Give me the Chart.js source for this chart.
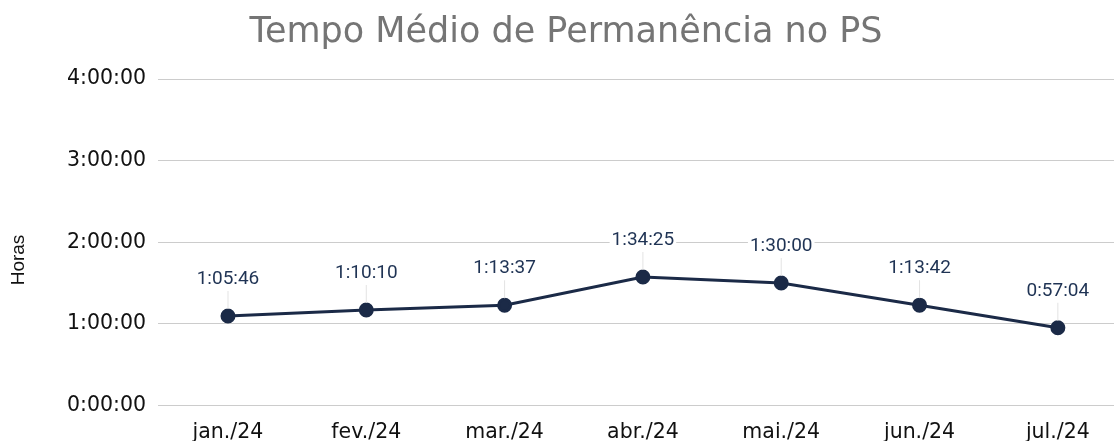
<!DOCTYPE html>
<html lang="pt-BR">
<head>
<meta charset="utf-8">
<script src="https://cdn.jsdelivr.net/npm/chart.js@4/dist/chart.umd.min.js"></script>
<style>
  html, body { margin: 0; padding: 0; background: #fff; overflow: hidden; }
  #wrap { width: 1114px; height: 452px; position: relative; }
</style>
</head>
<body>
<div id="wrap"><canvas id="grafico"></canvas></div>
<script>
// ================= DADOS =================
const meses = ["jan./24", "fev./24", "mar./24", "abr./24", "mai./24", "jun./24", "jul./24"];
// tempo médio em "h:mm:ss"
const tempos = ["1:05:46", "1:10:10", "1:13:37", "1:34:25", "1:30:00", "1:13:42", "0:57:04"];
const yTicks = [0, 3600, 7200, 10800, 14400];
const titulo = "Tempo Médio de Permanência no PS";
const tituloEixoY = "Horas";

// ================= HELPERS =================
function paraSegundos(txt) {
    const [h, m, s] = txt.split(":").map(Number);
    return h * 3600 + m * 60 + s;
}

function formatarHora(seg) {
    const h = Math.floor(seg / 3600);
    const m = Math.floor((seg % 3600) / 60);
    const s = Math.round(seg % 60);
    return h + ":" + String(m).padStart(2, "0") + ":" + String(s).padStart(2, "0");
}

const segundos = tempos.map(paraSegundos);

// ================= PLUGIN ROTULOS =================
const rotulos = {
    id: "rotulos",
    afterDatasetsDraw(chart) {
        const ctx = chart.ctx;
        const meta = chart.getDatasetMeta(0);
        ctx.save();
        ctx.font = "19px Roboto";
        ctx.textAlign = "center";
        ctx.textBaseline = "middle";
        meta.data.forEach((pt, i) => {
            const txt = tempos[i];
            const ty = pt.y - 37;
            // linha guia
            ctx.strokeStyle = "#e3e3e3";
            ctx.lineWidth = 1;
            ctx.beginPath();
            ctx.moveTo(pt.x, ty + 12);
            ctx.lineTo(pt.x, pt.y - 7);
            ctx.stroke();
            // fundo
            const w = ctx.measureText(txt).width;
            ctx.fillStyle = "#fff";
            ctx.fillRect(pt.x - w / 2 - 2, ty - 10, w + 4, 20);
            ctx.fillStyle = "#1f3354";
            ctx.fillText(txt, pt.x, ty);
        });

        // titulo
        ctx.textBaseline = "alphabetic";
        ctx.font = "35px 'DejaVu Sans'";
        ctx.fillStyle = "#757575";
        ctx.fillText(titulo, 566, 42);

        // titulo do eixo Y
        ctx.translate(19, 260);
        ctx.rotate(-Math.PI / 2);
        ctx.textBaseline = "middle";
        ctx.font = "19px 'Liberation Sans'";
        ctx.fillStyle = "#111";
        ctx.fillText(tituloEixoY, 0, 0);
        ctx.restore();
    }
};

// ================= GRAFICO =================
new Chart(document.getElementById("grafico"), {
    type: "line",
    data: {
        datasets: [{
            label: "Tempo médio",
            data: segundos.map((v, i) => ({ x: i, y: v })),
            borderColor: "#1b2a47",
            backgroundColor: "#1b2a47",
            borderWidth: 3,
            pointRadius: 6,
            pointHoverRadius: 6,
            tension: 0
        }]
    },
    options: {
        responsive: true,
        maintainAspectRatio: false,
        animation: false,
        layout: { autoPadding: false, padding: { top: 79, left: 0, right: 0, bottom: 0 } },
        plugins: {
            legend: { display: false },
            tooltip: { enabled: false },
            title: { display: false }
        },
        scales: {
            x: {
                type: "linear",
                min: -0.506,
                max: 6.406,
                afterBuildTicks: s => { s.ticks = meses.map((_, i) => ({ value: i })); },
                afterFit: s => { s.paddingLeft = 0; s.paddingRight = 0; },
                grid: { display: false },
                border: { display: false },
                ticks: {
                    autoSkip: false,
                    maxRotation: 0,
                    padding: 7,
                    color: "#111",
                    font: { family: "DejaVu Sans", size: 20.5 },
                    callback: v => meses[v]
                }
            },
            y: {
                min: 0,
                max: 14400,
                afterBuildTicks: s => { s.ticks = yTicks.map(v => ({ value: v })); },
                afterFit: s => { s.width = 158; },
                grid: { color: "#cccccc", lineWidth: 1, drawTicks: false },
                border: { display: false },
                ticks: {
                    padding: 12,
                    color: "#111",
                    font: { family: "DejaVu Sans", size: 20.5 },
                    callback: v => formatarHora(v)
                }
            }
        }
    },
    plugins: [rotulos]
});
</script>
</body>
</html>
